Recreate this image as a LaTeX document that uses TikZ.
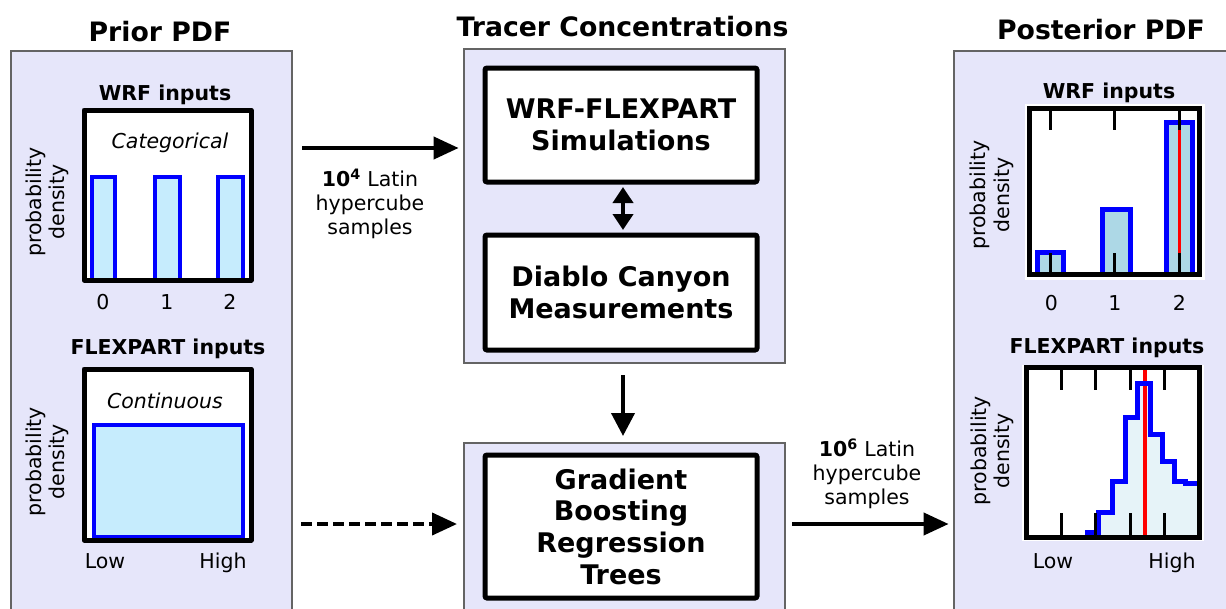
\documentclass[tikz,border=0pt]{standalone}
\usepackage{fontspec}
\setmainfont{DejaVu Sans}
\usetikzlibrary{arrows.meta}
\definecolor{lav}{RGB}{230,230,250}
\definecolor{panelgray}{RGB}{100,100,100}
\definecolor{priorfill}{RGB}{198,236,253}
\definecolor{postfill}{RGB}{173,216,230}
\definecolor{histfill}{RGB}{230,243,248}
\definecolor{pblue}{RGB}{0,0,255}
\definecolor{pred}{RGB}{255,0,0}
\begin{document}
\begin{tikzpicture}[x=1pt,y=-1pt,
  panel/.style={draw=panelgray, line width=1.2pt, fill=lav, inner sep=0pt, outer sep=0pt},
  procbox/.style={draw=black, line width=5pt, fill=white, rounded corners=2pt, minimum width=272pt, align=center, font=\fontsize{27}{31.7}\selectfont\bfseries, inner sep=0pt},
  header/.style={font=\fontsize{26.7}{31.5}\selectfont\bfseries, anchor=base, inner sep=0pt},
  subtitle/.style={font=\fontsize{20.5}{24}\selectfont\bfseries, anchor=base, inner sep=0pt},
  lbl/.style={font=\fontsize{20.5}{24}\selectfont, anchor=base, inner sep=0pt},
  itlbl/.style={font=\fontsize{20.5}{24}\selectfont\itshape, anchor=base, inner sep=0pt},
  ylbl/.style={font=\fontsize{20.5}{23.4}\selectfont, align=center, rotate=90, inner sep=0pt},
  arrlbl/.style={font=\fontsize{20.5}{24}\selectfont, align=center, inner sep=0pt},
  plotframe/.style={draw=black, line width=5pt, line join=round},
  postframe/.style={draw=black, line width=5pt},
  priorbar/.style={draw=pblue, fill=priorfill, line width=4pt},
  postbar/.style={draw=pblue, fill=postfill, line width=5pt},
  tick/.style={draw=black, line width=3pt},
  truth/.style={draw=pred, line width=4pt},
  bigarrow/.style={line width=4pt, -{Triangle[length=25pt,width=22pt]}},
  dblarrow/.style={line width=4pt, {Triangle[length=16pt,width=20pt]}-{Triangle[length=16pt,width=20pt]}},
]
\useasboundingbox (0,0) rectangle (1226,608);
\clip (0,0) rectangle (1226,608);

% ---------- panels ----------
\node[panel, minimum width=281pt, minimum height=561pt] (leftP) at (151.5,331.5) {};
\node[panel, minimum width=321pt, minimum height=314pt] (upP) at (624.5,206) {};
\node[panel, minimum width=321pt, minimum height=169pt] (lowP) at (624.5,527.5) {};
\node[panel, minimum width=278pt, minimum height=561pt] (rightP) at (1093,331.5) {};

% ---------- headers ----------
\node[header] (hPrior) at (160,41) {Prior PDF};
\node[header] (hTracer) at (622.5,36) {Tracer Concentrations};
\node[header] (hPost) at (1101,39.5) {Posterior PDF};

% ---------- prior WRF plot ----------
\node[subtitle] (pwT) at (165,100) {WRF inputs};
\fill[white] (84,110) rectangle (251,280);
\node[itlbl] (pwCat) at (170,148) {Categorical};
\draw[priorbar] (91.5,280) -- (91.5,177) -- (115,177) -- (115,280);
\draw[priorbar] (155,280) -- (155,177) -- (180,177) -- (180,280);
\draw[priorbar] (218,280) -- (218,177) -- (243,177) -- (243,280);
\draw[plotframe] (84,110) rectangle (251,280);
\node[lbl] (pw0) at (103,309) {0};
\node[lbl] (pw1) at (167,309) {1};
\node[lbl] (pw2) at (230,309) {2};
\node[ylbl] (pwY) at (47.5,202) {probability\\density};

% ---------- prior FLEXPART plot ----------
\node[subtitle] (pfT) at (168,354) {FLEXPART inputs};
\fill[white] (84,369) rectangle (251,540);
\node[itlbl] (pfCont) at (165,408) {Continuous};
\draw[priorbar] (93.5,425) rectangle (243,537);
\draw[plotframe] (84,369) rectangle (251,540);
\node[lbl] (pfLow) at (105,568) {Low};
\node[lbl] (pfHigh) at (223,568) {High};
\node[ylbl] (pfY) at (47.5,461.7) {probability\\density};

% ---------- middle boxes ----------
\node[procbox, minimum height=114pt] (wrf) at (621,125) {WRF-FLEXPART\\Simulations};
\node[procbox, minimum height=115pt] (dc) at (621,292.5) {Diablo Canyon\\Measurements};
\node[procbox, minimum height=143pt] (gb) at (621,526.5) {Gradient\\Boosting\\Regression\\Trees};

% ---------- posterior WRF plot ----------
\node[subtitle] (qwT) at (1109,98) {WRF inputs};
\fill[white] (1024.5,103.5) rectangle (1204.5,279.5);
\draw[postbar] (1037,274) -- (1037,252) -- (1063,252) -- (1063,274);
\draw[postbar] (1102,274) -- (1102,209) -- (1130,209) -- (1130,274);
\draw[postbar] (1166,274) -- (1166,122.5) -- (1192.5,122.5) -- (1192.5,274);
\draw[truth, line width=3.5pt] (1179.3,108.5) -- (1179.3,274.5);
\foreach \tx in {1050,1114.5,1179.3}{
  \draw[tick] (\tx,108.5) -- (\tx,130);
  \draw[tick] (\tx,253) -- (\tx,274.5);
}
\draw[postframe] (1029.5,108.5) rectangle (1199.5,274.5);
\node[lbl] (qw0) at (1051.5,310) {0};
\node[lbl] (qw1) at (1115,310) {1};
\node[lbl] (qw2) at (1179.3,310) {2};
\node[ylbl] (qwY) at (991.7,195) {probability\\density};

% ---------- posterior FLEXPART plot ----------
\node[subtitle] (qfT) at (1107,353) {FLEXPART inputs};
\fill[white] (1021.5,364.5) rectangle (1203.5,540.5);
\begin{scope}
\clip (1026,367) rectangle (1199,537);
\fill[histfill] (1087,537) -- (1087,532) -- (1098,532) -- (1098,512) -- (1112,512) -- (1112,481) -- (1125,481) -- (1125,417) -- (1137,417) -- (1137,383) -- (1150,383) -- (1150,434) -- (1162,434) -- (1162,461) -- (1174,461) -- (1174,481) -- (1185,481) -- (1185,483) -- (1199,483) -- (1199,537) -- cycle;
\draw[truth, line width=4.5pt] (1145,367) -- (1145,537);
\draw[draw=pblue, line width=5pt] (1087,537) -- (1087,532) -- (1098,532) -- (1098,512) -- (1112,512) -- (1112,481) -- (1125,481) -- (1125,417) -- (1137,417) -- (1137,383) -- (1150,383) -- (1150,434) -- (1162,434) -- (1162,461) -- (1174,461) -- (1174,481) -- (1185,481) -- (1185,483) -- (1199,483);
\end{scope}
\foreach \tx in {1061,1095.7,1130,1164.3}{
  \draw[tick] (\tx,367) -- (\tx,390);
  \draw[tick] (\tx,513) -- (\tx,537);
}
\draw[postframe] (1026,367) rectangle (1199,537);
\node[lbl] (qfLow) at (1053,568) {Low};
\node[lbl] (qfHigh) at (1172,568) {High};
\node[ylbl] (qfY) at (992.4,450.8) {probability\\density};

% ---------- connectors ----------
\coordinate (rowA) at (0,148);
\coordinate (rowB) at (0,524);
\draw[bigarrow, shorten <=10pt, shorten >=5.4pt] (leftP.east |- rowA) -- (upP.west |- rowA);
\node[arrlbl] (lblA) at (370,204) {\textbf{10\textsuperscript{4}} Latin\\hypercube\\samples};
\draw[bigarrow, dash pattern=on 11pt off 5pt, shorten <=9pt, shorten >=7pt] (leftP.east |- rowB) -- (lowP.west |- rowB);
\draw[bigarrow, shorten <=7.4pt, shorten >=5.4pt] (lowP.east |- rowB) -- (rightP.west |- rowB);
\node[arrlbl] (lblB) at (867,474) {\textbf{10\textsuperscript{6}} Latin\\hypercube\\samples};
\draw[dblarrow, shorten <=2.5pt, shorten >=2.5pt] ([xshift=2pt]wrf.south) -- ([xshift=2pt]dc.north);
\draw[bigarrow, -{Triangle[length=23pt,width=23pt]}, shorten <=12pt, shorten >=7pt] ([xshift=-1.5pt]upP.south) -- ([xshift=-1.5pt]lowP.north);
\end{tikzpicture}
\end{document}
